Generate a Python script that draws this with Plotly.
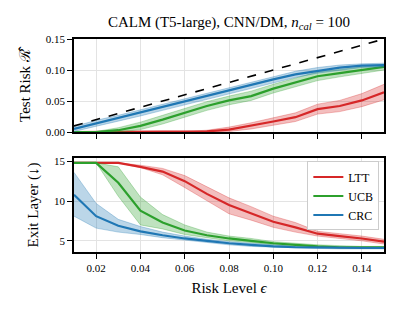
import plotly.graph_objects as go
from plotly.subplots import make_subplots

eps = [0.01, 0.02, 0.03, 0.04, 0.05, 0.06, 0.07, 0.08, 0.09, 0.10, 0.11, 0.12, 0.13, 0.14, 0.15]

risk_crc = [0.005, 0.014, 0.022, 0.031, 0.040, 0.049, 0.058, 0.067, 0.076, 0.085, 0.093, 0.099, 0.104, 0.107, 0.108]
risk_crc_lo = [0.001, 0.009, 0.017, 0.026, 0.035, 0.044, 0.053, 0.062, 0.071, 0.080, 0.088, 0.095, 0.100, 0.104, 0.105]
risk_crc_hi = [0.009, 0.019, 0.027, 0.036, 0.045, 0.054, 0.063, 0.072, 0.081, 0.090, 0.098, 0.104, 0.108, 0.110, 0.111]

risk_ucb = [0.000, 0.000, 0.003, 0.010, 0.020, 0.031, 0.042, 0.051, 0.058, 0.070, 0.080, 0.090, 0.095, 0.100, 0.105]
risk_ucb_lo = [0.000, 0.000, 0.000, 0.004, 0.013, 0.024, 0.035, 0.044, 0.051, 0.063, 0.073, 0.083, 0.089, 0.095, 0.100]
risk_ucb_hi = [0.000, 0.001, 0.007, 0.016, 0.027, 0.038, 0.049, 0.058, 0.066, 0.077, 0.087, 0.097, 0.101, 0.105, 0.109]

risk_ltt = [0.000, 0.000, 0.000, 0.000, 0.000, 0.000, 0.001, 0.004, 0.010, 0.017, 0.024, 0.037, 0.042, 0.051, 0.064]
risk_ltt_lo = [0.000, 0.000, 0.000, 0.000, 0.000, 0.000, 0.000, 0.001, 0.005, 0.011, 0.017, 0.029, 0.033, 0.041, 0.052]
risk_ltt_hi = [0.000, 0.000, 0.000, 0.000, 0.000, 0.001, 0.003, 0.008, 0.015, 0.023, 0.031, 0.045, 0.051, 0.062, 0.077]

exit_ltt = [14.8, 14.8, 14.8, 14.3, 13.7, 12.5, 10.9, 9.5, 8.5, 7.4, 6.7, 5.9, 5.6, 5.3, 4.9]
exit_ltt_lo = [14.8, 14.8, 14.8, 14.2, 13.3, 11.7, 10.0, 8.4, 7.6, 6.7, 6.1, 5.6, 5.3, 5.0, 4.6]
exit_ltt_hi = [14.8, 14.8, 14.8, 14.5, 14.1, 13.2, 11.8, 10.4, 9.3, 8.1, 7.3, 6.2, 5.9, 5.6, 5.2]

exit_ucb = [14.8, 14.8, 12.3, 8.8, 7.3, 6.3, 5.7, 5.3, 5.0, 4.7, 4.5, 4.3, 4.2, 4.2, 4.2]
exit_ucb_lo = [14.8, 14.8, 10.6, 7.0, 6.5, 5.8, 5.4, 5.0, 4.8, 4.5, 4.3, 4.2, 4.1, 4.1, 4.1]
exit_ucb_hi = [14.8, 14.8, 14.3, 10.5, 8.3, 7.0, 6.1, 5.6, 5.3, 4.9, 4.7, 4.5, 4.4, 4.3, 4.3]

exit_crc = [10.8, 8.1, 6.9, 6.2, 5.7, 5.3, 5.0, 4.7, 4.5, 4.3, 4.2, 4.15, 4.1, 4.1, 4.1]
exit_crc_lo = [8.1, 6.6, 6.1, 5.8, 5.4, 5.1, 4.8, 4.5, 4.3, 4.2, 4.1, 4.05, 4.0, 4.0, 4.0]
exit_crc_hi = [13.6, 9.7, 7.7, 6.8, 6.1, 5.6, 5.2, 4.9, 4.7, 4.5, 4.3, 4.25, 4.2, 4.2, 4.2]

x_ticks = [0.02, 0.04, 0.06, 0.08, 0.10, 0.12, 0.14]
x_tick_labels = ["0.02", "0.04", "0.06", "0.08", "0.10", "0.12", "0.14"]
risk_ticks = [0, 0.05, 0.10, 0.15]
risk_tick_labels = ["0.00", "0.05", "0.10", "0.15"]
exit_ticks = [5, 10, 15]

methods = ["LTT", "UCB", "CRC"]
colors = {"LTT": "#d62728", "UCB": "#2ca02c", "CRC": "#1f77b4"}
fills = {"LTT": "rgba(214,39,40,0.3)", "UCB": "rgba(44,160,44,0.3)", "CRC": "rgba(31,119,180,0.3)"}
risk = {"LTT": (risk_ltt, risk_ltt_lo, risk_ltt_hi), "UCB": (risk_ucb, risk_ucb_lo, risk_ucb_hi),
        "CRC": (risk_crc, risk_crc_lo, risk_crc_hi)}
exits = {"LTT": (exit_ltt, exit_ltt_lo, exit_ltt_hi), "UCB": (exit_ucb, exit_ucb_lo, exit_ucb_hi),
         "CRC": (exit_crc, exit_crc_lo, exit_crc_hi)}

fig = make_subplots(rows=2, cols=1, shared_xaxes=True, vertical_spacing=0.12)

FONT = "Liberation Serif"


def add_band(row, m, data):
    mid, lo, hi = data
    fig.add_trace(go.Scatter(x=eps, y=hi, mode="lines", line=dict(width=1, color=fills[m]),
                             showlegend=False, hoverinfo="skip"), row=row, col=1)
    fig.add_trace(go.Scatter(x=eps, y=lo, mode="lines", line=dict(width=1, color=fills[m]),
                             fill="tonexty", fillcolor=fills[m], showlegend=False, hoverinfo="skip"),
                  row=row, col=1)


for m in methods:
    add_band(1, m, risk[m])
    fig.add_trace(go.Scatter(x=eps, y=risk[m][0], mode="lines", line=dict(width=2.2, color=colors[m]),
                             showlegend=False), row=1, col=1)

fig.add_trace(go.Scatter(x=eps, y=eps, mode="lines", line=dict(width=1.6, color="black", dash="dash"),
                         showlegend=False), row=1, col=1)

for m in methods:
    add_band(2, m, exits[m])
    fig.add_trace(go.Scatter(x=eps, y=exits[m][0], mode="lines", line=dict(width=2.2, color=colors[m]),
                             name=m, showlegend=True), row=2, col=1)

axis_common = dict(showline=True, linecolor="black", linewidth=1.5, mirror=True,
                   ticks="outside", ticklen=5, tickwidth=1.3, tickcolor="black",
                   showgrid=True, gridcolor="#e3e3e3", gridwidth=1, zeroline=False, automargin=False,
                   tickfont=dict(family=FONT, size=11, color="black"))

fig.update_xaxes(**axis_common, range=[0.01, 0.15], tickvals=x_ticks, ticktext=x_tick_labels)
fig.update_xaxes(showticklabels=False, row=1, col=1)
fig.update_xaxes(title=dict(text="Risk Level <i>ϵ</i>", font=dict(family=FONT, size=15, color="black"),
                            standoff=10),
                 row=2, col=1)
fig.update_yaxes(**axis_common)
fig.update_yaxes(range=[0, 0.15], tickvals=risk_ticks, ticktext=risk_tick_labels,
                 title=dict(text="Test Risk <span style=\"font-family:'DejaVu Serif'\">ℛ\u0302</span>",
                            font=dict(family=FONT, size=15, color="black"), standoff=12),
                 row=1, col=1)
fig.update_yaxes(range=[3.6, 15.4], tickvals=exit_ticks,
                 title=dict(text="Exit Layer (↓)", font=dict(family=FONT, size=15, color="black"), standoff=12),
                 row=2, col=1)

fig.update_layout(
    width=399, height=318,
    margin=dict(l=74, r=15, t=39, b=66),
    paper_bgcolor="white", plot_bgcolor="white",
    font=dict(family=FONT, color="black"),
    title=dict(text="CALM (T5-large), CNN/DM, <i>n<sub>cal</sub></i> = 100",
               x=0.5, xref="paper", xanchor="center", y=1, yref="paper", yanchor="bottom",
               pad=dict(b=12), font=dict(family=FONT, size=15, color="black")),
    legend=dict(x=0.985, y=0.425, xanchor="right", yanchor="top", bordercolor="#cccccc", borderwidth=1,
                bgcolor="white", font=dict(family=FONT, size=12, color="black"),
                traceorder="normal", tracegroupgap=0, itemwidth=30),
)
fig.layout.yaxis.domain = [0.563, 1.0]
fig.layout.yaxis2.domain = [0.0, 0.441]

fig.write_html("out.html", config={"displayModeBar": False},
               post_script="document.body.style.margin='0';")
